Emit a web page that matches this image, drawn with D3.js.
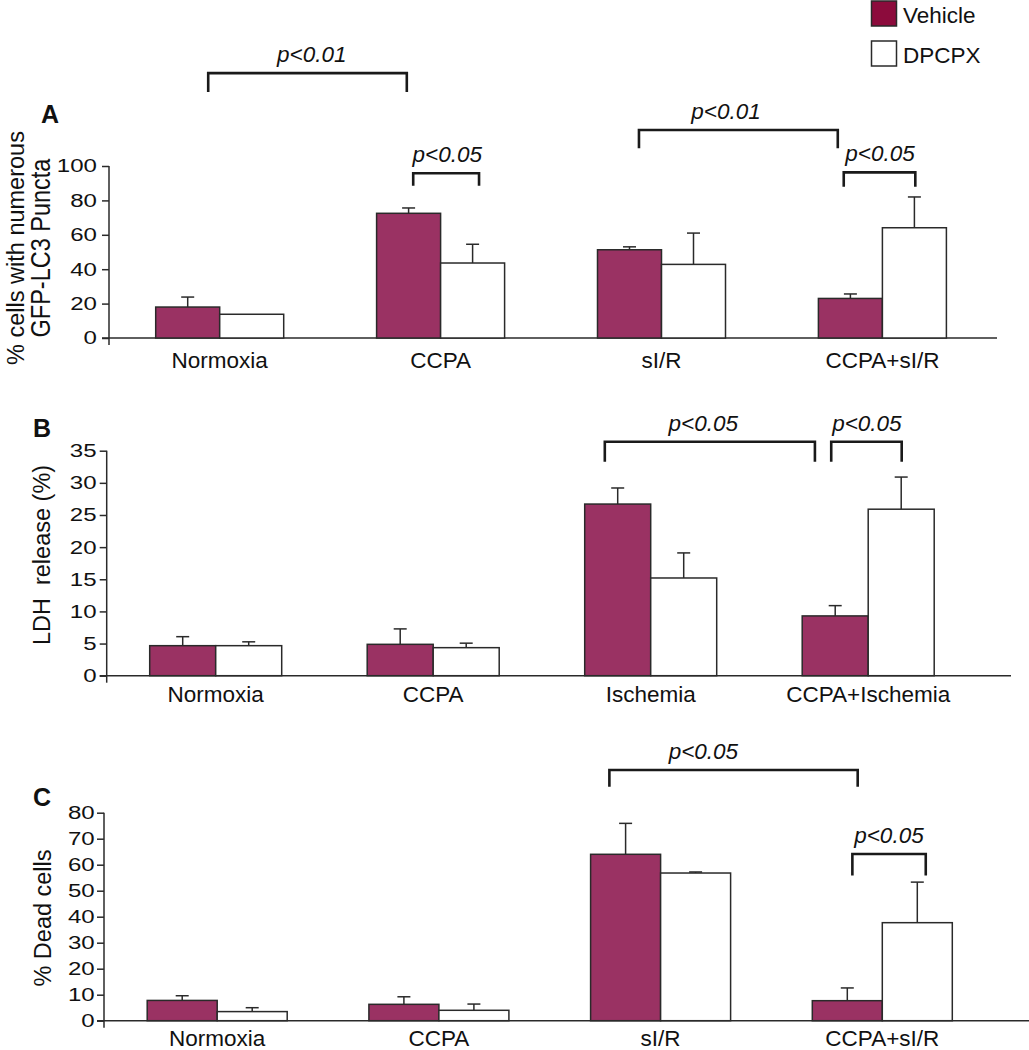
<!DOCTYPE html>
<html>
<head>
<meta charset="utf-8">
<script src="https://cdn.jsdelivr.net/npm/d3@7"></script>
<style>
  html, body { margin: 0; padding: 0; background: #fff; }
  svg { display: block; font-family: "Liberation Sans", Arial, Helvetica, sans-serif; }
</style>
</head>
<body>
<svg id="chart" width="1029" height="1050"></svg>
<script>
// ---------------- DATA ----------------
const seriesNames = ["Vehicle", "DPCPX"];

// Panel A: % cells with numerous GFP-LC3 puncta
const catsA   = ["Normoxia", "CCPA", "sI/R", "CCPA+sI/R"];
const vehA    = [18.0, 72.5, 51.3, 23.0];
const vehErrA = [5.8, 3.1, 1.7, 2.6];
const dpcA    = [13.8, 43.6, 42.8, 64.1];
const dpcErrA = [0, 10.9, 18.2, 17.9];
const ticksA  = [0, 20, 40, 60, 80, 100];

// Panel B: LDH release (%)
const catsB   = ["Normoxia", "CCPA", "Ischemia", "CCPA+Ischemia"];
const vehB    = [4.67, 4.88, 26.7, 9.3];
const vehErrB = [1.4, 2.4, 2.5, 1.6];
const dpcB    = [4.67, 4.36, 15.2, 25.9];
const dpcErrB = [0.6, 0.7, 3.9, 5.0];
const ticksB  = [0, 5, 10, 15, 20, 25, 30, 35];

// Panel C: % Dead cells
const catsC   = ["Normoxia", "CCPA", "sI/R", "CCPA+sI/R"];
const vehC    = [7.8, 6.3, 64.0, 7.7];
const vehErrC = [1.8, 2.9, 11.9, 4.9];
const dpcC    = [3.5, 4.0, 56.8, 37.7];
const dpcErrC = [1.5, 2.4, 0.4, 15.6];
const ticksC  = [0, 10, 20, 30, 40, 50, 60, 70, 80];

// Significance brackets (x in group-index units, y in data units)
const bracketsA = [
  {x1: -0.052, x2: 0.847, top: 154, bottom: 143, tx: 0.417, label: "p<0.01"},
  {x1: 0.876, x2: 1.174, top: 95.8, bottom: 88.5, tx: 1.030, label: "p<0.05"},
  {x1: 1.898, x2: 2.798, top: 120.9, bottom: 110.3, tx: 2.292, label: "p<0.01"},
  {x1: 2.825, x2: 3.149, top: 96.3, bottom: 88.0, tx: 2.989, label: "p<0.05"}
];
const bracketsB = [
  {x1: 1.789, x2: 2.755, top: 36.4, bottom: 33.3, tx: 2.242, label: "p<0.05"},
  {x1: 2.830, x2: 3.154, top: 36.4, bottom: 33.3, tx: 2.994, label: "p<0.05"}
];
const bracketsC = [
  {x1: 1.769, x2: 2.889, top: 96.4, bottom: 90.0, tx: 2.193, label: "p<0.05"},
  {x1: 2.865, x2: 3.196, top: 64.1, bottom: 55.8, tx: 3.030, label: "p<0.05"}
];

// ---------------- DRAWING ----------------
const svg = d3.select("#chart");
const VEH_FILL = "#9a3263";
const INK = "#2a2a2a";
const TICK_SX = 1.3;

function drawPanel(p) {
  const g = svg.append("g");
  const n = p.cats.length;
  const y = d3.scaleLinear().domain([0, p.ymax]).range([p.y0, p.yTop]);
  const pad = 1 - p.groupW / p.step;
  const x = d3.scaleBand().domain(p.cats)
    .range([p.center0 - p.step / 2, p.center0 + p.step * (n - 0.5)])
    .paddingInner(pad).paddingOuter(pad / 2);
  const xs = d3.scaleBand().domain(seriesNames).range([0, x.bandwidth()]);
  const xu = d3.scaleLinear().domain([0, n - 1]).range([p.center0, p.center0 + p.step * (n - 1)]);

  // y axis
  const ya = g.append("g").attr("transform", `translate(${p.axisX},0)`)
    .call(d3.axisLeft(y).tickValues(p.ticks).tickSize(7).tickPadding(p.tickPad).tickSizeOuter(0));
  ya.select(".domain").remove();
  ya.selectAll(".tick line").attr("stroke", INK).attr("stroke-width", 1.5);
  ya.selectAll(".tick text")
    .attr("fill", "#111").style("font-size", "18.5px")
    .attr("transform", `scale(${TICK_SX},1)`);
  g.append("line").attr("x1", p.axisX).attr("x2", p.axisX)
    .attr("y1", y(0) + 7).attr("y2", y(p.ymax))
    .attr("stroke", INK).attr("stroke-width", 1.5);
  // x baseline
  g.append("line").attr("x1", p.axisX - 7).attr("x2", p.xEnd)
    .attr("y1", y(0)).attr("y2", y(0))
    .attr("stroke", INK).attr("stroke-width", 1.5);

  // bars
  const rows = p.cats.map((c, i) => ({
    cat: c,
    vals: [
      {s: "Vehicle", v: p.veh[i], e: p.vehErr[i]},
      {s: "DPCPX", v: p.dpc[i], e: p.dpcErr[i]}
    ]
  }));
  const grp = g.selectAll(".grp").data(rows).join("g")
    .attr("transform", d => `translate(${x(d.cat)},0)`);
  grp.selectAll(".err").data(d => d.vals.filter(v => v.e > 0)).join("g").each(function(d) {
    const cx = xs(d.s) + xs.bandwidth() / 2;
    const e = d3.select(this);
    e.append("line").attr("x1", cx).attr("x2", cx).attr("y1", y(d.v)).attr("y2", y(d.v + d.e))
      .attr("stroke", INK).attr("stroke-width", 1.5);
    e.append("line").attr("x1", cx - 6.5).attr("x2", cx + 6.5).attr("y1", y(d.v + d.e)).attr("y2", y(d.v + d.e))
      .attr("stroke", INK).attr("stroke-width", 1.5);
  });
  grp.selectAll("rect").data(d => d.vals).join("rect")
    .attr("x", d => xs(d.s)).attr("width", xs.bandwidth())
    .attr("y", d => y(d.v)).attr("height", d => y(0) - y(d.v))
    .attr("fill", d => d.s === "Vehicle" ? VEH_FILL : "#fff")
    .attr("stroke", INK).attr("stroke-width", 1.5);

  // category labels
  g.selectAll(".cat").data(p.cats).join("text")
    .attr("x", d => x(d) + x.bandwidth() / 2).attr("y", y(0) + p.labelPad)
    .attr("text-anchor", "middle").style("font-size", "22.5px").attr("fill", "#111")
    .text(d => d);

  // brackets
  p.brackets.forEach(b => {
    const x1 = xu(b.x1), x2 = xu(b.x2), yt = y(b.top), yb = y(b.bottom);
    g.append("path").attr("d", `M${x1},${yb}V${yt}H${x2}V${yb}`)
      .attr("fill", "none").attr("stroke", "#1a1a1a").attr("stroke-width", 2.6);
    g.append("text").attr("x", xu(b.tx)).attr("y", yt - 11)
      .attr("text-anchor", "middle").style("font-size", "22.5px").style("font-style", "italic")
      .attr("fill", "#111").text(b.label);
  });

  // panel letter
  g.append("text").attr("x", p.letterX).attr("y", p.letterY)
    .style("font-size", "25px").style("font-weight", "bold").attr("fill", "#111").text(p.letter);

  // y label
  p.yLabel.forEach(l => {
    g.append("text")
      .attr("transform", `translate(${l.bx},${p.yLabelCy}) rotate(-90) scale(1,${l.sy || 1})`)
      .attr("text-anchor", "middle").style("font-size", "23.5px").style("white-space", "pre")
      .attr("fill", "#111").text(l.t);
  });
}

drawPanel({
  cats: catsA, veh: vehA, vehErr: vehErrA, dpc: dpcA, dpcErr: dpcErrA, ticks: ticksA, ymax: 100,
  y0: 338, yTop: 166, axisX: 109, center0: 219.7, step: 220.9, groupW: 128, xEnd: 997, tickPad: 2.3,
  labelPad: 30, brackets: bracketsA, letter: "A", letterX: 41, letterY: 123,
  yLabel: [{t: "% cells with numerous", bx: 24, sy: 1.0}, {t: "GFP-LC3 Puncta", bx: 49.5, sy: 1.15}], yLabelCy: 248
});
drawPanel({
  cats: catsB, veh: vehB, vehErr: vehErrB, dpc: dpcB, dpcErr: dpcErrB, ticks: ticksB, ymax: 35,
  y0: 675.7, yTop: 450.7, axisX: 106.7, center0: 215.7, step: 217.5, groupW: 132, xEnd: 1011, tickPad: 0.8,
  labelPad: 26, brackets: bracketsB, letter: "B", letterX: 33, letterY: 437,
  yLabel: [{t: "LDH  release (%)", bx: 50}], yLabelCy: 555
});
drawPanel({
  cats: catsC, veh: vehC, vehErr: vehErrC, dpc: dpcC, dpcErr: dpcErrC, ticks: ticksC, ymax: 80,
  y0: 1020.7, yTop: 812.7, axisX: 104, center0: 217.2, step: 221.7, groupW: 140, xEnd: 1029, tickPad: 0.2,
  labelPad: 25.5, brackets: bracketsC, letter: "C", letterX: 33, letterY: 806,
  yLabel: [{t: "% Dead cells", bx: 51}], yLabelCy: 918
});

// legend
const legend = svg.append("g");
const legendItems = [{name: "Vehicle", fill: "#8c0b3c"}, {name: "DPCPX", fill: "#fff"}];
legend.selectAll("rect").data(legendItems).join("rect")
  .attr("x", 871.5).attr("y", (d, i) => 1 + i * 40).attr("width", 25).attr("height", 25)
  .attr("fill", d => d.fill).attr("stroke", INK).attr("stroke-width", 1.5);
legend.selectAll("text").data(legendItems).join("text")
  .attr("x", 903).attr("y", (d, i) => 23 + i * 40)
  .style("font-size", "22.5px").attr("fill", "#111").text(d => d.name);
</script>
</body>
</html>
